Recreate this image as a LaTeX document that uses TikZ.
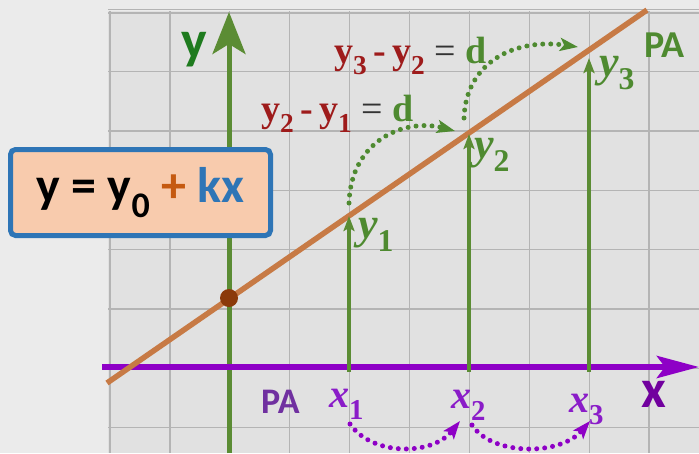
\documentclass[tikz,border=0pt]{standalone}
\usepackage{fontspec}
\setmainfont{Carlito}
\newfontfamily\cambria{Liberation Serif}
\usetikzlibrary{positioning, arrows.meta}

\definecolor{pagebg}{HTML}{EBEBEB}
\definecolor{gridbg}{HTML}{E1E1E1}
\definecolor{gridgray}{HTML}{B4B4B4}
\definecolor{axisgreen}{HTML}{5B8C34}
\definecolor{labelgreen}{HTML}{1E7B1E}
\definecolor{textgreen}{HTML}{4E8A30}
\definecolor{axispurple}{HTML}{8E00C6}
\definecolor{textpurple}{HTML}{8A1CC8}
\definecolor{papurple}{HTML}{7030A0}
\definecolor{trendbrown}{HTML}{C77A45}
\definecolor{dotbrown}{HTML}{8B3A0A}
\definecolor{diffred}{HTML}{9E1B1B}
\definecolor{boxfill}{HTML}{F8CBAD}
\definecolor{boxblue}{HTML}{2E75B6}
\definecolor{plusbrown}{HTML}{C55A11}

\newcommand{\lo}[1]{\raisebox{-0.3em}{\scalebox{0.72}{\upshape #1}}}

\tikzset{
  gridline/.style={draw=gridgray, line width=1.3pt},
  yaxis/.style={draw=axisgreen, line width=5pt, -{Stealth[length=42pt, width=33pt, inset=10pt]}},
  xaxis/.style={draw=axispurple, line width=6pt, -{Stealth[length=42pt, width=22pt, inset=8pt]}},
  trend/.style={draw=trendbrown, line width=5.5pt},
  rise/.style={draw=axisgreen, line width=4pt, -{Stealth[length=15pt, width=11pt, inset=3pt]}},
  hop/.style={line width=5pt, line cap=round, dash pattern=on 0pt off 8pt, -{Stealth[length=18pt, width=13pt, inset=4pt]}},
  dot/.style={circle, fill=dotbrown, minimum size=18pt, inner sep=0pt},
  lbl/.style={anchor=base west, inner sep=0pt},
  formbox/.style={draw=boxblue, fill=boxfill, line width=5pt, rounded corners=5pt,
    minimum width=260pt, minimum height=86pt, inner sep=0pt}
}

\begin{document}
\begin{tikzpicture}[x=1pt, y=-1pt]
\useasboundingbox (0,0) rectangle (699,453);
\fill[pagebg] (0,0) rectangle (699,453);
\fill[gridbg] (108,11) rectangle (699,453);

% grid
\foreach \i in {0,...,9}
  \draw[gridline] ({110+59.9*\i},11) -- ({110+59.9*\i},453);
\foreach \j in {1,...,7}
  \draw[gridline] (108,{12.5+59.3*\j}) -- (699,{12.5+59.3*\j});
\draw[gridline] (108,9.5) -- (699,9.5);
\draw[gridline] (108,13) -- (699,13);

% axes
\coordinate (ybot) at (229,453);
\coordinate (ytop) at (229,12);
\coordinate (xleft) at (102,367);
\coordinate (xright) at (699,367);
\draw[yaxis] (ybot) -- (ytop);
\draw[xaxis] (xleft) -- (xright);

% line and the points on it
\coordinate (lstart) at (107,383);
\coordinate (lend) at (647,10);
\draw[trend] (lstart) -- (lend);
\foreach \n/\x/\t in {1/349/216, 2/469/134, 3/589/58} {
  \coordinate (f\n) at (\x,372);
  \coordinate (p\n) at (\x,\t);
  \draw[rise] (f\n) -- (p\n);
}
\node[dot] (y0) at (229,298) {};

% labels
\node[lbl, text=labelgreen, font=\fontsize{54}{60}\selectfont\bfseries] (ylab) at (181,58) {y};
\node[lbl, text=axispurple!80!black, font=\fontsize{54}{60}\selectfont\bfseries] (xlab) at (641,407) {x};
\node[lbl, text=textgreen, font=\fontsize{38}{44}\selectfont\bfseries] (pagreen) at (644,57) {PA};
\node[lbl, text=papurple, font=\fontsize{36}{42}\selectfont\bfseries] (papurple) at (261,413) {PA};

\node[lbl, text=textgreen, font=\fontsize{44}{50}\selectfont\cambria\itshape\bfseries] (y1) at (358,238) {y\lo{1}};
\node[lbl, text=textgreen, font=\fontsize{44}{50}\selectfont\cambria\itshape\bfseries] (y2) at (474,158) {y\lo{2}};
\node[lbl, text=textgreen, font=\fontsize{44}{50}\selectfont\cambria\itshape\bfseries] (y3) at (599,76) {y\lo{3}};
\node[lbl, text=textpurple, font=\fontsize{40}{46}\selectfont\cambria\itshape\bfseries] (x1) at (329,407) {x\lo{1}};
\node[lbl, text=textpurple, font=\fontsize{40}{46}\selectfont\cambria\itshape\bfseries] (x2) at (451,408) {x\lo{2}};
\node[lbl, text=textpurple, font=\fontsize{40}{46}\selectfont\cambria\itshape\bfseries] (x3) at (569,412) {x\lo{3}};

\node[lbl, text=diffred, font=\fontsize{38}{44}\selectfont\cambria\bfseries] (d21) at (261,121)
  {y\lo{2}\,-\,y\lo{1} \textcolor{black!80}{\mdseries=} \textcolor{textgreen}{d}};
\node[lbl, text=diffred, font=\fontsize{38}{44}\selectfont\cambria\bfseries] (d32) at (334,63)
  {y\lo{3}\,-\,y\lo{2} \textcolor{black!80}{\mdseries=} \textcolor{textgreen}{d}};

% hops
\coordinate (g1s) at (349,203);
\coordinate (g1e) at (455,131);
\coordinate (g2s) at (464,118);
\coordinate (g2e) at (578,47);
\draw[hop, draw=textgreen] (g1s) .. controls (351,140) and (405,118) .. (g1e);
\draw[hop, draw=textgreen] (g2s) .. controls (466,62) and (515,38) .. (g2e);
\coordinate (h1s) at (350,424);
\coordinate (h1e) at (460,421);
\coordinate (h2s) at (472,425);
\coordinate (h2e) at (590,421);
\draw[hop, draw=axispurple] (h1s) .. controls (372,456) and (432,456) .. (h1e);
\draw[hop, draw=axispurple] (h2s) .. controls (492,456) and (560,456) .. (h2e);

% formula
\node[formbox, font=\fontsize{50}{56}\selectfont\bfseries] (form) at (140.5,192.5)
  {y = y\lo{0} \textcolor{plusbrown}{+} \textcolor{boxblue}{kx}};

\end{tikzpicture}
\end{document}
